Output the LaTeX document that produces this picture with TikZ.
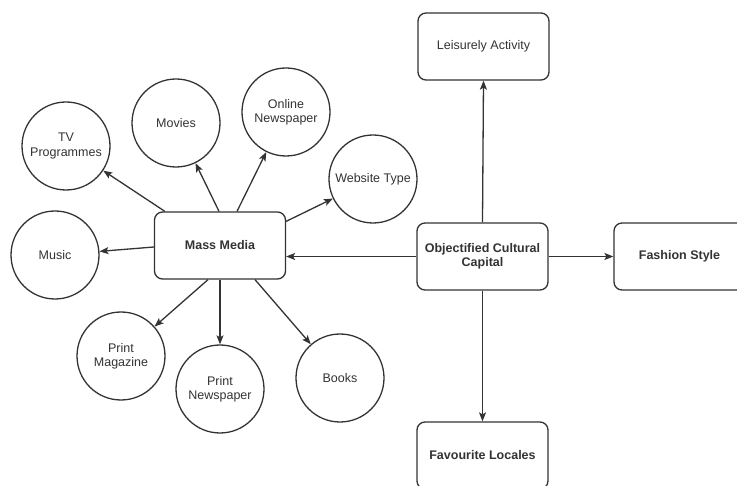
\documentclass[tikz,border=0pt]{standalone}
\usepackage{fontspec}
\setmainfont{Liberation Sans}
\usetikzlibrary{arrows.meta}
\definecolor{ink}{HTML}{333333}
\begin{document}
\begin{tikzpicture}[x=1pt,y=-1pt,
  every node/.style={text=ink,font=\fontsize{12.5}{14}\selectfont},
  topic/.style={circle,draw=ink,line width=1.3pt,minimum size=88pt,inner sep=0pt,align=center},
  block/.style={rectangle,rounded corners=8pt,draw=ink,line width=1.3pt,minimum width=131pt,minimum height=67pt,inner sep=2pt,align=center},
  link/.style={draw=ink,line width=1.3pt,-{Stealth[length=9pt,width=7pt,inset=2pt]}}]
\clip (0,0) rectangle (737,486);
\fill[white] (0,0) rectangle (737,486);

% central hub and its media circles
\node[block,font=\bfseries\fontsize{12.5}{14}\selectfont] (mm) at (220,245.5) {Mass Media};
\node[topic] (tv) at (66,146) {TV\\Programmes};
\node[topic] (mov) at (176,123) {Movies};
\node[topic] (onl) at (286,112) {Online\\Newspaper};
\node[topic] (web) at (373,179) {Website Type};
\node[topic] (mus) at (55,255) {Music};
\node[topic] (pmag) at (121,356) {Print\\Magazine};
\node[topic] (pnews) at (220,389) {Print\\Newspaper};
\node[topic] (bks) at (340,378) {Books};

% capital hub and its outcome boxes
\node[block,font=\bfseries\fontsize{12.5}{14}\selectfont] (ocp) at (482.5,256.5) {Objectified Cultural\\Capital};
\node[block] (la) at (483.5,46.5) {Leisurely Activity};
\node[block,font=\bfseries\fontsize{12.5}{14}\selectfont] (fs) at (679.5,256.5) {Fashion Style};
\node[block,font=\bfseries\fontsize{12.5}{14}\selectfont] (fl) at (482.5,455.5) {Favourite Locales};

% connectors from Mass Media
\draw[link] ([xshift=11pt]mm.north west) -- (tv);
\draw[link] ([xshift=-1pt]mm.north) -- (mov);
\draw[link] ([xshift=17pt]mm.north) -- (onl);
\draw[link] ([yshift=-10pt]mm.north east) -- (web);
\draw[link] ([yshift=-1.5pt]mm.west) -- (mus);
\draw[link] ([xshift=-12pt]mm.south) -- (pmag);
\draw[link] (mm.south) -- (pnews);
\draw[link] ([xshift=35pt]mm.south) -- (bks);

% connectors from Objectified Cultural Capital
\draw[link] (ocp.west) -- (ocp.west -| mm.east);
\draw[link] (ocp.north) -- (la.south);
\draw[link] (ocp.south) -- (fl.north);
\draw[link] (ocp.east) -- (fs.west);
\end{tikzpicture}
\end{document}
